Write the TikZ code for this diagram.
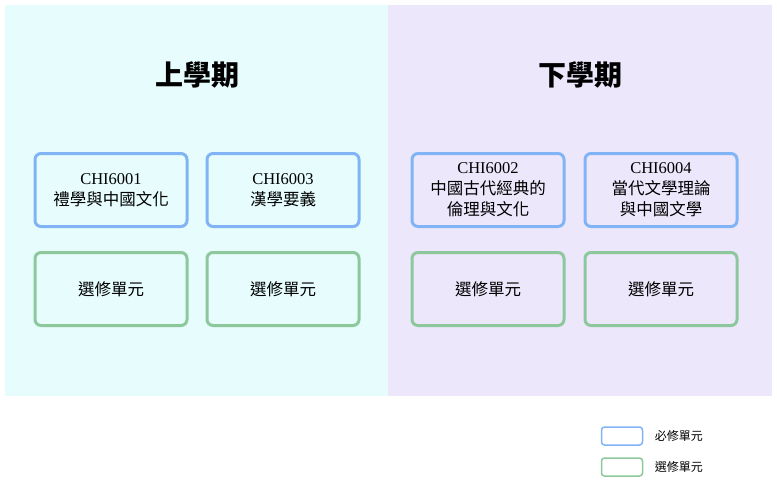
\documentclass[tikz,border=0pt]{standalone}
\usepackage{fontspec}
\setmainfont{Liberation Serif}
\newfontfamily\cjk{Noto Sans CJK TC}
\usetikzlibrary{positioning}
\definecolor{leftbg}{HTML}{E6FCFD}
\definecolor{rightbg}{HTML}{EDE7FC}
\definecolor{reqblue}{HTML}{80B4F4}
\definecolor{optgreen}{HTML}{8DC89C}

\begin{document}
\begin{tikzpicture}[x=1pt,y=-1pt]
\tikzset{UNIT/.style={draw,line width=3pt,rounded corners=6pt,minimum width=152pt,minimum height=73pt,text centered,align=center,font=\fontsize{16.5}{21}\selectfont\cjk}}
\tikzset{REQUIRED/.style={UNIT,draw=reqblue}}
\tikzset{OPTIONAL/.style={UNIT,draw=optgreen}}
\tikzset{TERM/.style={font=\fontsize{28}{32}\selectfont\cjk\bfseries}}
\tikzset{KEY/.style={draw,line width=1.5pt,rounded corners=3pt,minimum width=41pt,minimum height=18pt}}
\tikzset{KEYTEXT/.style={right,font=\fontsize{12}{14}\selectfont\cjk}}

\useasboundingbox (0,0) rectangle (777,495);
\fill[white] (0,0) rectangle (777,495);
\fill[leftbg] (5,5) rectangle (388,396);
\fill[rightbg] (388,5) rectangle (772,396);

\node[TERM] (first term) at (197,75) {上學期};
\node[TERM] (second term) at (580,75) {下學期};

\node[REQUIRED] (chi6001) at (111,190) {{\rmfamily CHI6001}\\禮學與中國文化};
\node[REQUIRED] (chi6003) at (283,190) {{\rmfamily CHI6003}\\漢學要義};
\node[REQUIRED] (chi6002) at (488,190) {{\rmfamily CHI6002}\\中國古代經典的\\倫理與文化};
\node[REQUIRED] (chi6004) at (661,190) {{\rmfamily CHI6004}\\當代文學理論\\與中國文學};

\node[OPTIONAL] (elective a) at (111,289) {選修單元};
\node[OPTIONAL] (elective b) at (283,289) {選修單元};
\node[OPTIONAL] (elective c) at (488,289) {選修單元};
\node[OPTIONAL] (elective d) at (661,289) {選修單元};

\node[KEY,draw=reqblue] (key required) at (622,436) {};
\node[KEYTEXT] at ([xshift=8pt]key required.east) {必修單元};
\node[KEY,draw=optgreen] (key optional) at (622,467) {};
\node[KEYTEXT] at ([xshift=8pt]key optional.east) {選修單元};
\end{tikzpicture}
\end{document}
